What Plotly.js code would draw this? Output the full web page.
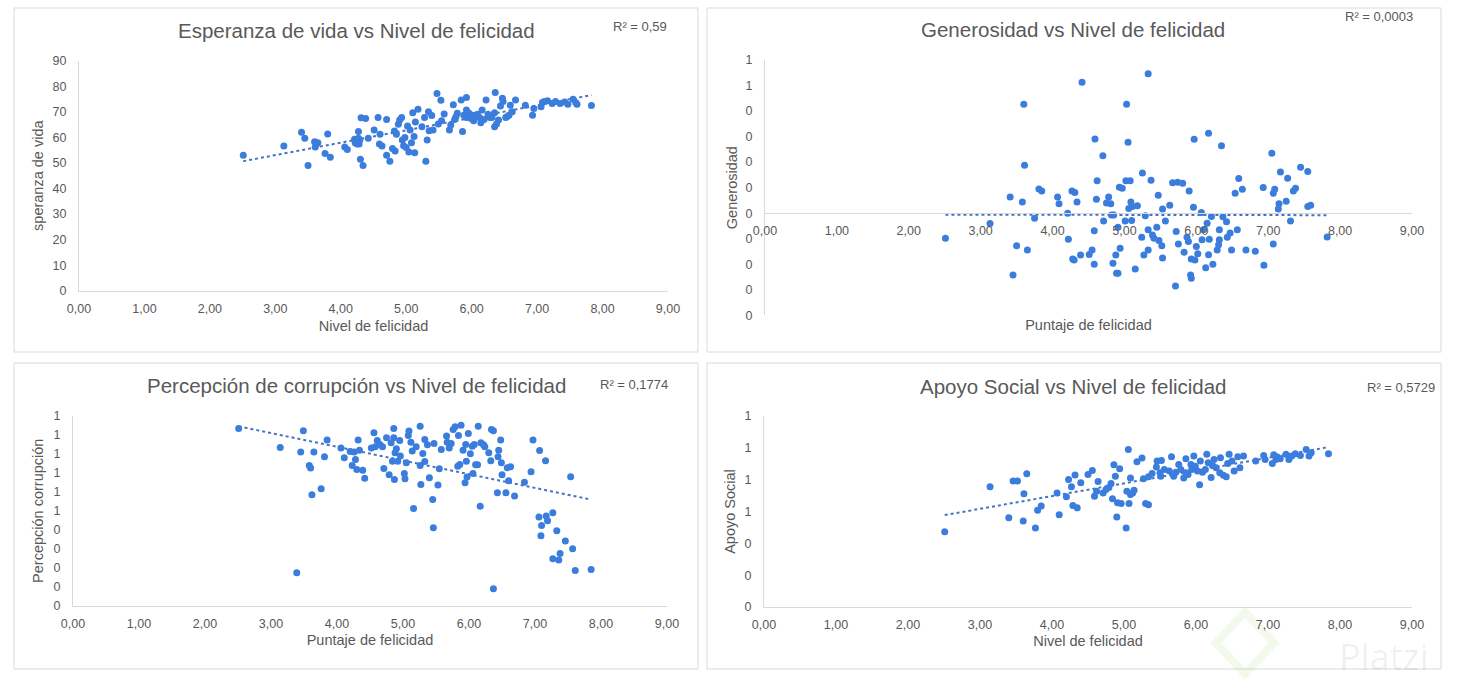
<!DOCTYPE html>
<html>
<head>
<meta charset="utf-8">
<script src="https://cdn.plot.ly/plotly-3.0.1.min.js"></script>
<style>html,body{margin:0;padding:0;background:#fff;}#chart{width:1457px;height:688px;}</style>
</head>
<body>
<div id="chart"></div>
<script>
// ---------- DATA ----------
const titles = ["Esperanza de vida vs Nivel de felicidad","Generosidad vs Nivel de felicidad","Percepción de corrupción vs Nivel de felicidad","Apoyo Social vs Nivel de felicidad"];
const xTitles = ["Nivel de felicidad","Puntaje de felicidad","Puntaje de felicidad","Nivel de felicidad"];
const yTitles = ["speranza de vida","Generosidad","Percepción corrupción","Apoyo Social"];
const r2Labels = ["R² = 0,59","R² = 0,0003","R² = 0,1774","R² = 0,5729"];

const xTickVals = [0,1,2,3,4,5,6,7,8,9];
const xTickText = ["0,00","1,00","2,00","3,00","4,00","5,00","6,00","7,00","8,00","9,00"];
const y1TickVals = [0,10,20,30,40,50,60,70,80,90];
const y1TickText = ["0","10","20","30","40","50","60","70","80","90"];
const y2TickVals = [-0.4,-0.3,-0.2,-0.1,0,0.1,0.2,0.3,0.4,0.5,0.6];
const y2TickText = ["0","0","0","0","0","0","0","0","0","1","1"];
const y3TickVals = [0,0.1,0.2,0.3,0.4,0.5,0.6,0.7,0.8,0.9,1.0];
const y3TickText = ["0","0","0","0","0","1","1","1","1","1","1"];
const y4TickVals = [0,0.2,0.4,0.6,0.8,1.0,1.2];
const y4TickText = ["0","0","0","1","1","1","1"];

// Esperanza de vida
const vidaX = [2.51,3.13,3.40,3.45,3.50,3.60,3.63,3.65,3.61,3.80,
 3.76,3.84,4.06,4.10,4.21,4.22,4.25,4.27,4.29,4.27,
 4.30,4.31,4.34,4.38,4.28,4.42,4.51,4.57,4.59,4.60,
 4.63,4.70,4.70,4.75,4.79,4.82,4.83,4.85,4.88,4.90,
 4.93,4.94,4.96,4.98,5.00,5.02,5.04,5.06,5.08,5.10,
 5.12,5.13,5.14,5.18,5.24,5.28,5.30,5.32,5.34,5.35,
 5.39,5.41,5.47,5.49,5.53,5.54,5.58,5.66,5.68,5.72,
 5.74,5.78,5.84,5.86,5.88,5.92,5.92,5.96,5.99,6.02,
 6.06,6.09,6.12,6.14,6.16,6.19,6.22,6.25,6.31,6.35,
 6.36,6.35,6.38,6.41,6.44,6.47,6.48,6.52,6.57,6.59,
 6.62,6.67,6.82,6.93,6.95,7.06,7.08,7.11,7.16,7.23,
 7.28,7.35,7.42,7.47,7.55,7.59,7.61,7.83,
 5.92,6.03,6.28,6.54,5.76];
const vidaY = [53.0,56.6,62.0,59.7,49.0,58.3,57.4,57.9,56.2,61.3,
 53.7,52.2,56.2,55.3,59.3,57.9,57.4,62.3,59.0,59.7,
 51.4,67.7,49.0,67.4,57.4,59.7,62.9,67.8,57.4,61.2,
 56.6,67.0,53.0,50.7,55.6,62.5,54.7,61.2,65.1,66.8,
 67.8,59.0,56.7,59.9,56.0,64.4,54.3,62.9,57.9,69.6,
 60.3,54.0,66.0,71.0,64.2,67.8,50.7,59.0,70.0,62.6,
 68.6,62.9,77.2,65.2,74.5,66.5,69.1,62.9,64.8,72.8,
 67.0,69.4,74.6,62.3,68.7,75.6,67.8,69.4,67.4,68.7,
 68.1,69.0,67.8,65.7,70.7,67.0,74.6,69.0,67.8,69.6,
 77.6,64.2,65.2,66.8,72.3,75.3,74.0,67.8,68.7,72.6,
 70.0,74.6,72.6,68.7,71.3,72.0,73.6,74.0,74.3,73.3,
 74.0,73.3,73.8,73.0,74.9,73.6,73.0,72.5,
 70.7,66.5,67.8,68.1,68.1];

// Generosidad
const genX = [2.51,3.13,3.41,3.45,3.50,3.58,3.60,3.61,3.65,3.75,
 3.81,3.85,4.07,4.09,4.21,4.22,4.27,4.28,4.31,4.30,
 4.34,4.39,4.41,4.51,4.55,4.58,4.58,4.59,4.61,4.62,
 4.70,4.71,4.75,4.78,4.81,4.82,4.84,4.85,4.88,4.89,
 4.91,4.91,4.93,4.94,4.97,5.01,5.02,5.03,5.05,5.06,
 5.08,5.09,5.10,5.11,5.15,5.18,5.24,5.25,5.27,5.29,
 5.33,5.33,5.33,5.37,5.39,5.41,5.45,5.47,5.48,5.52,
 5.53,5.53,5.57,5.63,5.67,5.72,5.74,5.71,5.75,5.81,
 5.83,5.87,5.89,5.90,5.92,5.93,5.93,5.97,5.96,5.98,
 6.00,6.02,6.07,6.08,6.10,6.13,6.15,6.17,6.17,6.18,
 6.21,6.23,6.29,6.31,6.32,6.35,6.37,6.42,6.43,6.47,
 6.49,6.54,6.57,6.59,6.64,6.69,6.82,6.93,6.94,7.05,
 7.07,7.09,7.07,7.15,7.14,7.17,7.25,7.27,7.31,7.35,
 7.38,7.45,7.55,7.55,7.59,7.82,6.32];
const genY = [-0.098,-0.040,0.063,-0.242,-0.128,0.044,0.427,0.188,-0.144,-0.020,
 0.095,0.087,0.063,0.037,0.000,-0.102,0.087,-0.179,0.081,-0.183,
 0.044,-0.164,0.513,-0.162,-0.144,-0.200,-0.069,0.291,0.055,0.127,
 0.225,-0.031,0.040,0.063,0.037,-0.007,-0.196,-0.007,-0.164,-0.235,
 -0.235,-0.055,0.102,-0.137,0.098,-0.031,0.127,0.427,0.278,0.018,
 0.127,0.044,-0.029,0.026,-0.219,0.029,-0.094,0.157,-0.164,-0.010,
 -0.065,-0.144,0.546,0.129,-0.085,-0.098,-0.055,0.070,-0.107,-0.128,
 -0.176,0.016,-0.031,0.031,0.119,-0.072,0.121,-0.285,-0.121,0.117,
 -0.153,-0.094,-0.111,0.087,-0.242,-0.255,-0.179,0.290,0.023,-0.183,
 -0.131,-0.159,0.003,-0.104,-0.065,-0.214,-0.039,0.313,-0.163,-0.102,
 -0.013,-0.200,-0.144,-0.124,-0.065,0.264,-0.014,-0.034,-0.094,-0.078,
 -0.144,0.078,-0.065,0.136,0.094,-0.144,-0.149,0.101,-0.204,0.235,
 0.078,0.094,-0.121,0.037,0.016,0.161,0.047,0.137,-0.031,0.087,
 0.098,0.180,0.163,0.026,0.031,-0.093,-0.104];

// Percepción de corrupción
const corrX = [2.51,3.14,3.39,3.45,3.49,3.58,3.60,3.62,3.65,3.76,
 3.81,3.85,4.06,4.11,4.20,4.23,4.26,4.28,4.30,4.32,
 4.34,4.39,4.42,4.52,4.56,4.58,4.61,4.65,4.69,4.71,
 4.75,4.79,4.82,4.84,4.86,4.86,4.87,4.88,4.90,4.92,
 4.95,4.96,5.02,5.03,5.05,5.08,5.09,5.12,5.14,5.16,
 5.20,5.26,5.26,5.27,5.30,5.33,5.33,5.37,5.40,5.45,
 5.46,5.47,5.53,5.55,5.58,5.66,5.67,5.70,5.73,5.76,
 5.79,5.83,5.84,5.86,5.88,5.91,5.94,5.95,5.97,5.99,
 6.02,6.05,6.06,6.10,6.13,6.14,6.17,6.18,6.22,6.24,
 6.30,6.33,6.34,6.37,6.37,6.43,6.44,6.45,6.48,6.49,
 6.50,6.56,6.58,6.60,6.63,6.69,6.84,6.94,6.97,7.06,
 7.07,7.09,7.10,7.16,7.17,7.19,7.27,7.27,7.33,7.36,
 7.38,7.46,7.54,7.57,7.61,7.85,5.96,6.08];
const corrY = [0.932,0.832,0.175,0.809,0.920,0.738,0.724,0.584,0.809,0.615,
 0.783,0.872,0.830,0.778,0.811,0.738,0.808,0.769,0.717,0.872,
 0.818,0.712,0.670,0.830,0.909,0.836,0.869,0.848,0.836,0.722,
 0.883,0.689,0.857,0.760,0.932,0.883,0.664,0.804,0.825,0.760,
 0.869,0.787,0.696,0.668,0.752,0.895,0.918,0.860,0.813,0.512,
 0.836,0.738,0.944,0.638,0.801,0.759,0.874,0.846,0.673,0.559,
 0.411,0.853,0.635,0.720,0.822,0.892,0.860,0.830,0.853,0.927,
 0.941,0.734,0.895,0.743,0.949,0.818,0.647,0.848,0.677,0.906,
 0.799,0.839,0.696,0.741,0.741,0.944,0.524,0.857,0.846,0.836,
 0.804,0.762,0.927,0.091,0.920,0.594,0.783,0.818,0.872,0.752,
 0.689,0.594,0.726,0.657,0.731,0.577,0.650,0.705,0.872,0.467,
 0.816,0.369,0.423,0.762,0.472,0.448,0.490,0.248,0.395,0.241,
 0.276,0.341,0.678,0.301,0.187,0.192,0.760,0.848];

// Apoyo social
const apoyoX = [2.51,3.14,3.40,3.46,3.52,3.60,3.61,3.65,3.77,3.80,
 3.85,4.07,4.10,4.20,4.23,4.27,4.29,4.32,4.35,4.40,
 4.50,4.56,4.59,4.62,4.64,4.71,4.75,4.79,4.82,4.84,
 4.86,4.88,4.90,4.91,4.94,4.96,5.03,5.04,5.06,5.07,
 5.09,5.12,5.14,5.09,5.18,5.25,5.27,5.30,5.34,5.34,
 5.39,5.46,5.51,5.52,5.56,5.63,5.66,5.69,5.72,5.76,
 5.79,5.83,5.86,5.89,5.93,5.97,5.99,6.02,6.05,6.06,
 6.09,6.13,6.15,6.17,6.21,6.25,6.28,6.33,6.34,6.38,
 6.42,6.44,6.46,6.50,6.53,6.58,6.61,6.66,6.83,6.94,
 6.96,7.06,7.08,7.11,7.13,7.17,7.25,7.29,7.33,7.38,
 7.45,7.53,7.57,7.60,7.84,5.86,6.23,5.94,5.50,5.45];
const apoyoY = [0.472,0.755,0.560,0.791,0.791,0.541,0.711,0.837,0.497,0.608,
 0.634,0.717,0.579,0.692,0.801,0.755,0.638,0.829,0.623,0.780,
 0.833,0.858,0.696,0.728,0.789,0.717,0.738,0.751,0.776,0.680,
 0.894,0.822,0.566,0.655,0.868,0.650,0.497,0.728,0.990,0.650,
 0.707,0.717,0.734,0.810,0.913,0.936,0.806,0.650,0.642,0.818,
 0.839,0.917,0.822,0.921,0.864,0.854,0.944,0.822,0.847,0.896,
 0.864,0.810,0.931,0.833,0.896,0.948,0.885,0.854,0.768,0.917,
 0.847,0.864,0.959,0.906,0.814,0.927,0.875,0.843,0.938,0.827,
 0.818,0.902,0.959,0.917,0.854,0.944,0.875,0.948,0.917,0.952,
 0.927,0.902,0.957,0.927,0.942,0.931,0.959,0.927,0.948,0.963,
 0.952,0.990,0.948,0.969,0.963,0.843,0.889,0.864,0.843,0.880];

// ---------- LAYOUT HELPERS ----------
const W = 1457, H = 688;
const px = v => v / W;
const py = v => 1 - v / H;
const FONT = "'Liberation Sans', Arial, sans-serif";
const TXT = '#595959';
const DOT = '#3b7ddd';
const TREND = '#4472c4';
const AXC = '#d9d9d9';

function linfit(xs, ys) {
  const n = xs.length;
  let sx=0, sy=0, sxx=0, sxy=0;
  for (let i=0;i<n;i++){ sx+=xs[i]; sy+=ys[i]; sxx+=xs[i]*xs[i]; sxy+=xs[i]*ys[i]; }
  const b = (n*sxy - sx*sy) / (n*sxx - sx*sx);
  const a = (sy - b*sx) / n;
  const x0 = Math.min(...xs), x1 = Math.max(...xs);
  return {x:[x0,x1], y:[a+b*x0, a+b*x1]};
}

const sets = [[vidaX,vidaY],[genX,genY],[corrX,corrY],[apoyoX,apoyoY]];
const traces = [];
sets.forEach((s, i) => {
  const ax = i === 0 ? '' : String(i+1);
  const t = linfit(s[0], s[1]);
  traces.push({x:t.x, y:t.y, xaxis:'x'+ax, yaxis:'y'+ax, type:'scatter', mode:'lines',
    line:{color:TREND, width:2, dash:'dot'}, hoverinfo:'skip'});
  traces.push({x:s[0], y:s[1], xaxis:'x'+ax, yaxis:'y'+ax, type:'scatter', mode:'markers',
    marker:{color:DOT, size:7, line:{width:0}}, cliponaxis:false});
});

function xa(dom, anchor, title, standoff, extra) {
  return Object.assign({
    domain:[px(dom[0]), px(dom[1])], range:[0,9], anchor:anchor,
    tickvals:xTickVals, ticktext:xTickText, showgrid:false, zeroline:false,
    showline:true, linecolor:AXC, linewidth:1, ticks:'', ticklabelstandoff:6,
    tickfont:{size:12.5, color:TXT, family:FONT}, fixedrange:true,
    title:{text:title, font:{size:14.5, color:TXT, family:FONT}, standoff:standoff}
  }, extra || {});
}
function ya(dom, range, vals, text, anchor, title, standoff) {
  return {
    domain:[py(dom[1]), py(dom[0])], range:range, anchor:anchor,
    tickvals:vals, ticktext:text, showgrid:false, zeroline:false,
    showline:true, linecolor:AXC, linewidth:1, ticks:'', ticklabelstandoff:9,
    tickfont:{size:12.5, color:TXT, family:FONT}, fixedrange:true,
    title:{text:title, font:{size:14.5, color:TXT, family:FONT}, standoff:standoff}
  };
}

// plot areas in pixels: [left,right] and [top,bottom]
const P1 = {x:[79,668], y:[60.7,290.7]};
const P2 = {x:[765,1412], y:[60,315.3]};
const P3 = {x:[73,667], y:[415.5,606]};
const P4 = {x:[764,1412], y:[416,607]};

const y2dom = [py(P2.y[1]), py(P2.y[0])];
const x2pos = y2dom[0] + (0 - (-0.4)) / (0.6 - (-0.4)) * (y2dom[1] - y2dom[0]);

const boxes = [[14,8,698,352],[707,8,1441,352],[14,363,698,669],[707,363,1441,669]];
const shapes = boxes.map(b => ({type:'rect', xref:'paper', yref:'paper',
  x0:px(b[0]), x1:px(b[2]), y0:py(b[3]), y1:py(b[1]), line:{color:'#d9d9d9', width:1}, layer:'below'}));

const titlePos = [[356,31],[1073,30],[356,385],[1073,386]];
const r2Pos = [[640,27],[1379,16],[634,384],[1401,387]];
const annotations = [];
titles.forEach((t,i)=>annotations.push({text:t, xref:'paper', yref:'paper', x:px(titlePos[i][0]), y:py(titlePos[i][1]),
  xanchor:'center', yanchor:'middle', showarrow:false, font:{size:20.5, color:TXT, family:FONT}}));
r2Labels.forEach((t,i)=>annotations.push({text:t, xref:'paper', yref:'paper', x:px(r2Pos[i][0]), y:py(r2Pos[i][1]),
  xanchor:'center', yanchor:'middle', showarrow:false, font:{size:13, color:TXT, family:FONT}}));
annotations.push({text:'Platzi', xref:'paper', yref:'paper', x:px(1384), y:py(656), xanchor:'center', yanchor:'middle',
  showarrow:false, font:{size:36, color:'rgba(0,0,0,0.06)', family:"'Open Sans', sans-serif"}});

shapes.push({type:'path', xref:'paper', yref:'paper', layer:'below',
  path:`M ${px(1245)},${py(612)} L ${px(1274)},${py(643)} L ${px(1245)},${py(674)} L ${px(1216)},${py(643)} Z`,
  line:{color:'rgba(140,200,60,0.10)', width:8}});

const layout = {
  width:W, height:H, margin:{l:0,r:0,t:0,b:0}, paper_bgcolor:'#ffffff', plot_bgcolor:'rgba(0,0,0,0)',
  showlegend:false, font:{family:FONT, color:TXT, size:12}, hovermode:false,
  xaxis: xa(P1.x, 'y', xTitles[0], 6),
  yaxis: ya(P1.y, [0,90], y1TickVals, y1TickText, 'x', yTitles[0], 5),
  xaxis2: xa(P2.x, 'free', xTitles[1], 82, {position:x2pos}),
  yaxis2: ya(P2.y, [-0.4,0.6], y2TickVals, y2TickText, 'x2', yTitles[1], 4),
  xaxis3: xa(P3.x, 'y3', xTitles[2], 4),
  yaxis3: ya(P3.y, [0,1], y3TickVals, y3TickText, 'x3', yTitles[2], 6),
  xaxis4: xa(P4.x, 'y4', xTitles[3], 4),
  yaxis4: ya(P4.y, [0,1.2], y4TickVals, y4TickText, 'x4', yTitles[3], 5),
  shapes:shapes, annotations:annotations
};

Plotly.newPlot('chart', traces, layout, {displayModeBar:false, staticPlot:true});
</script>
</body>
</html>
